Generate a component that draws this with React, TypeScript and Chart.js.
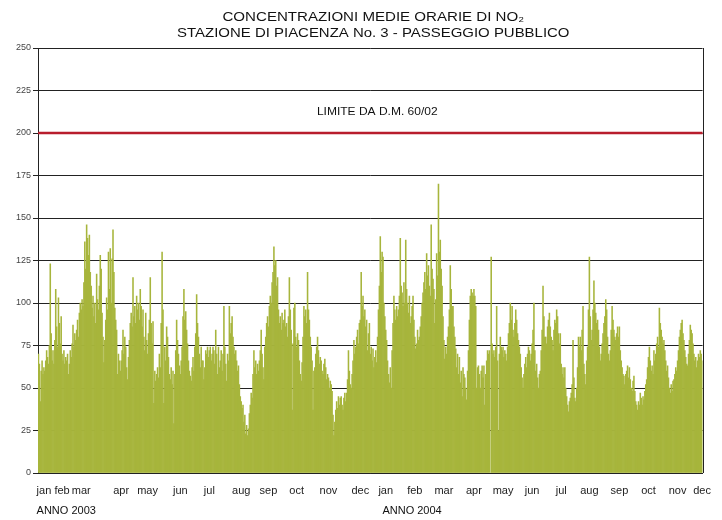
import React, { useEffect, useRef } from 'react';
import { Chart, registerables } from 'chart.js';

Chart.register(...registerables);

// ---- Data: daily values (µg/m³) ----
const jan03 = [70, 64, 42, 60, 66, 58, 62, 60, 66, 72, 68, 64, 75, 123, 82, 66, 72, 64, 78, 108, 86, 74, 103, 88, 76, 92, 70, 66, 72, 64, 68];
const feb03 = [66, 70, 58, 64, 72, 68, 76, 87, 74, 82, 78, 84, 90, 80, 94, 100, 96, 102, 98, 112, 136, 120, 146, 138, 128, 140, 118, 110];
const mar03 = [97, 104, 92, 100, 88, 117, 102, 96, 110, 128, 120, 94, 80, 65, 78, 90, 103, 96, 130, 108, 132, 100, 126, 143, 118, 97, 90, 84, 58, 70, 66];
const apr03 = [60, 66, 72, 84, 70, 80, 74, 62, 55, 68, 78, 88, 94, 86, 115, 92, 98, 88, 104, 96, 100, 90, 108, 98, 86, 96, 80, 72, 94, 78];
const may03 = [70, 82, 90, 115, 88, 76, 89, 41, 60, 54, 58, 62, 56, 70, 62, 88, 130, 96, 41, 74, 66, 86, 80, 68, 58, 55, 62, 52, 60, 29, 58];
const jun03 = [72, 90, 78, 70, 63, 58, 66, 74, 92, 108, 90, 95, 84, 76, 66, 60, 57, 54, 62, 68, 60, 74, 82, 105, 88, 80, 70, 62, 74, 66];
const jul03 = [66, 55, 62, 72, 70, 74, 68, 72, 74, 66, 70, 74, 72, 64, 84, 70, 58, 74, 62, 66, 72, 60, 70, 98, 74, 64, 54, 70, 66, 98, 82];
const aug03 = [88, 92, 80, 74, 70, 72, 66, 60, 63, 52, 45, 42, 38, 40, 30, 34, 23, 28, 22, 26, 35, 40, 47, 44, 58, 72, 62, 66, 58, 64, 60];
const sep03 = [66, 72, 84, 70, 62, 55, 74, 80, 88, 92, 86, 98, 104, 100, 112, 118, 133, 122, 125, 110, 115, 96, 88, 92, 84, 94, 88, 90, 96, 86];
const oct03 = [88, 80, 92, 115, 96, 84, 37, 76, 97, 100, 80, 74, 82, 78, 66, 58, 54, 65, 80, 98, 92, 96, 88, 118, 96, 90, 80, 74, 66, 37, 60];
const nov03 = [62, 70, 74, 80, 72, 64, 68, 66, 60, 58, 64, 67, 62, 55, 58, 56, 50, 54, 52, 48, 34, 22, 30, 37, 42, 38, 45, 40, 44, 45];
const dec03 = [40, 37, 44, 47, 42, 47, 55, 72, 60, 52, 50, 58, 66, 78, 70, 74, 80, 84, 76, 88, 90, 118, 98, 104, 92, 96, 86, 90, 72, 82, 88];

const jan04 = [70, 74, 66, 73, 62, 68, 72, 65, 80, 96, 110, 139, 118, 130, 127, 100, 92, 84, 78, 66, 58, 53, 62, 50, 72, 88, 104, 96, 90, 98, 92];
const feb04 = [96, 104, 138, 110, 106, 98, 112, 100, 137, 108, 100, 94, 104, 88, 92, 98, 104, 90, 80, 73, 76, 84, 78, 80, 86, 92, 100, 106, 112];
const mar04 = [118, 108, 129, 116, 122, 110, 104, 146, 120, 114, 108, 88, 102, 129, 116, 170, 130, 137, 120, 110, 92, 78, 67, 74, 70, 80, 86, 96, 122, 108, 98];
const apr04 = [98, 86, 80, 73, 62, 70, 58, 68, 53, 60, 45, 62, 58, 56, 50, 43, 60, 72, 90, 104, 108, 106, 104, 108, 104, 98, 50, 62, 63, 58];
const may04 = [50, 60, 63, 56, 63, 40, 58, 66, 72, 70, 72, 0, 127, 76, 70, 72, 68, 74, 98, 66, 25, 70, 80, 74, 72, 74, 68, 72, 70, 66, 74];
const jun04 = [82, 88, 100, 90, 98, 84, 80, 88, 96, 90, 82, 78, 74, 70, 62, 56, 50, 58, 64, 68, 62, 70, 74, 72, 66, 70, 76, 84, 100, 72];
const jul04 = [60, 64, 56, 50, 58, 60, 72, 84, 110, 92, 80, 80, 76, 86, 90, 94, 86, 80, 78, 72, 84, 90, 88, 96, 92, 82, 76, 82, 64, 58, 62];
const aug04 = [56, 62, 50, 45, 40, 36, 42, 44, 47, 52, 78, 56, 44, 42, 50, 62, 80, 74, 80, 72, 84, 98, 64, 58, 52, 66, 74, 96, 127, 92, 78];
const sep04 = [84, 96, 113, 100, 94, 88, 90, 84, 74, 66, 70, 76, 82, 88, 92, 102, 96, 80, 70, 66, 72, 84, 98, 90, 84, 80, 78, 82, 86, 80];
const oct04 = [86, 72, 66, 62, 58, 57, 52, 58, 60, 63, 56, 62, 55, 50, 48, 54, 57, 48, 42, 40, 37, 42, 40, 47, 44, 40, 45, 43, 48, 52, 55];
const nov04 = [62, 68, 74, 66, 60, 63, 58, 72, 66, 70, 76, 80, 74, 97, 88, 84, 80, 76, 78, 72, 66, 60, 63, 56, 50, 47, 52, 48, 54, 55];
const dec04 = [58, 62, 60, 66, 72, 80, 84, 88, 90, 82, 78, 72, 68, 64, 63, 70, 78, 87, 84, 82, 76, 70, 66, 68, 62, 66, 70, 68, 72, 70, 66];

const MONTHS = ['jan', 'feb', 'mar', 'apr', 'may', 'jun', 'jul', 'aug', 'sep', 'oct', 'nov', 'dec'];
const YEARS = ['ANNO 2003', 'ANNO 2004'];
// day index (from 1 Jan 2003) under which each month label is written
const LABEL_DAYS_2003 = [6, 26, 47, 91, 120, 156, 188, 223, 253, 284, 319, 354];
const LABEL_DAYS_2004 = [382, 414, 446, 479, 511, 543, 575, 606, 639, 671, 703, 730];
const Y_MIN = 0;
const Y_MAX = 250;
const Y_STEP = 25;
const LIMIT = 200;
const LIMIT_LABEL = 'LIMITE DA D.M. 60/02';
const TITLE_1 = 'CONCENTRAZIONI MEDIE ORARIE DI NO\u2082';
const TITLE_2 = 'STAZIONE DI PIACENZA No. 3 - PASSEGGIO PUBBLICO';

const VALUES = [
  ...jan03, ...feb03, ...mar03, ...apr03, ...may03, ...jun03,
  ...jul03, ...aug03, ...sep03, ...oct03, ...nov03, ...dec03,
  ...jan04, ...feb04, ...mar04, ...apr04, ...may04, ...jun04,
  ...jul04, ...aug04, ...sep04, ...oct04, ...nov04, ...dec04,
];

const FONT = '"Liberation Sans", Arial, Helvetica, sans-serif';
const BAR_COLOR = '#a7b53c';

function stretchedText(ctx: CanvasRenderingContext2D, text: string, x: number, y: number, sx: number) {
  ctx.save();
  ctx.translate(x, y);
  ctx.scale(sx, 1);
  ctx.fillText(text, 0, 0);
  ctx.restore();
}

export default function App() {
  const ref = useRef<HTMLCanvasElement | null>(null);

  useEffect(() => {
    document.body.style.margin = '0';
    const canvas = ref.current;
    if (!canvas) return;

    const labelMap = new Map<number, string>();
    LABEL_DAYS_2003.forEach((d, i) => labelMap.set(d, MONTHS[i]));
    LABEL_DAYS_2004.forEach((d, i) => labelMap.set(d, MONTHS[i]));
    const labels = VALUES.map((_, i) => String(i));

    const decorations = {
      id: 'decorations',
      afterDatasetsDraw(chart: any) {
        const { ctx, chartArea, scales } = chart;
        const y = scales.y.getPixelForValue(LIMIT);
        ctx.save();
        // right frame line
        ctx.strokeStyle = '#222';
        ctx.lineWidth = 1;
        ctx.beginPath();
        ctx.moveTo(Math.round(chartArea.right) + 0.5, chartArea.top);
        ctx.lineTo(Math.round(chartArea.right) + 0.5, chartArea.bottom);
        ctx.stroke();
        // limit line
        ctx.strokeStyle = '#b81d2c';
        ctx.lineWidth = 2.5;
        ctx.beginPath();
        ctx.moveTo(chartArea.left, y);
        ctx.lineTo(chartArea.right, y);
        ctx.stroke();
        ctx.fillStyle = '#111';
        ctx.font = `10px ${FONT}`;
        ctx.textAlign = 'center';
        ctx.textBaseline = 'middle';
        stretchedText(ctx, LIMIT_LABEL, (chartArea.left + chartArea.right) / 2 + 7, scales.y.getPixelForValue(LIMIT + 12.5), 1.2);
        ctx.restore();
      },
      afterDraw(chart: any) {
        const { ctx, chartArea, scales } = chart;
        ctx.save();
        ctx.fillStyle = '#111';
        ctx.textBaseline = 'middle';
        ctx.textAlign = 'center';
        ctx.font = `13px ${FONT}`;
        const cx = (chartArea.left + chartArea.right) / 2 + 3;
        stretchedText(ctx, TITLE_1, cx, 17, 1.16);
        stretchedText(ctx, TITLE_2, cx, 33, 1.15);
        ctx.font = `11px ${FONT}`;
        ctx.textAlign = 'left';
        const w = ctx.measureText(MONTHS[0]).width;
        ctx.fillText(YEARS[0], scales.x.getPixelForValue(LABEL_DAYS_2003[0]) - w / 2, 511);
        ctx.fillText(YEARS[1], scales.x.getPixelForValue(LABEL_DAYS_2004[0]) - w / 2 + 4, 511);
        ctx.restore();
      },
    };

    const chart = new Chart(canvas, {
      type: 'bar',
      data: {
        labels,
        datasets: [
          {
            data: VALUES,
            backgroundColor: BAR_COLOR,
            borderWidth: 0,
            barPercentage: 1,
            categoryPercentage: 1,
          },
        ],
      },
      options: {
        animation: false,
        responsive: false,
        events: [],
        layout: { padding: { top: 48, right: 15, left: 0, bottom: 0 } },
        plugins: {
          legend: { display: false },
          title: { display: false },
          tooltip: { enabled: false },
        },
        scales: {
          x: {
            type: 'category',
            offset: true,
            grid: { display: false, drawTicks: false },
            border: { display: true, color: '#222', width: 1 },
            ticks: {
              autoSkip: false,
              maxRotation: 0,
              minRotation: 0,
              padding: 11,
              color: '#222',
              font: { family: FONT, size: 11 },
              callback: (_v: any, i: number) => labelMap.get(i) ?? '',
            },
            afterFit: (s: any) => {
              s.height = 47;
            },
          },
          y: {
            min: Y_MIN,
            max: Y_MAX,
            grid: { color: '#222', lineWidth: 1, drawTicks: true, tickLength: 5 },
            border: { display: true, color: '#222', width: 1 },
            ticks: {
              stepSize: Y_STEP,
              padding: 2,
              color: '#444',
              font: { family: FONT, size: 9 },
            },
            afterFit: (s: any) => {
              s.width = 38;
            },
          },
        },
      },
      plugins: [decorations],
    });

    return () => chart.destroy();
  }, []);

  return (
    <div style={{ width: 722, height: 520, background: '#fff' }}>
      <canvas ref={ref} width={722} height={520} style={{ display: 'block' }} />
    </div>
  );
}
